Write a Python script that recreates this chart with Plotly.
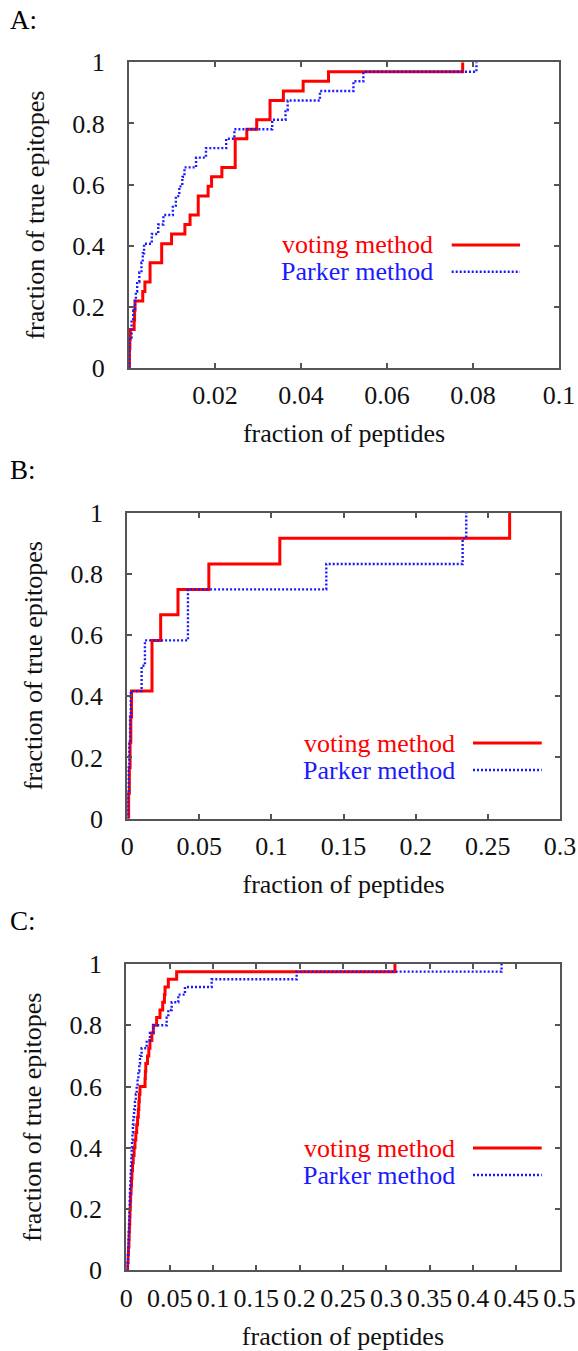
import plotly.graph_objects as go

W, H = 578, 1351

# ---------------- data (fraction of peptides, fraction of true epitopes) -------------
# Panel A
a_vote_x = [0, 0.0001, 0.0002, 0.0003, 0.0012, 0.0013, 0.0014, 0.0032, 0.0037, 0.0049,
            0.0076, 0.0099, 0.0130, 0.0142, 0.0161, 0.0184, 0.0192, 0.0216, 0.0247,
            0.0274, 0.0297, 0.0328, 0.0359, 0.0405, 0.0464, 0.0776]
a_vote_y = [0, 0.062, 0.094, 0.125, 0.156, 0.188, 0.219, 0.250, 0.281, 0.344,
            0.406, 0.438, 0.469, 0.500, 0.562, 0.594, 0.625, 0.656, 0.750,
            0.781, 0.812, 0.875, 0.906, 0.938, 0.969, 1.000]
a_park_x = [0, 0.0001, 0.0006, 0.0010, 0.0014, 0.0016, 0.0019, 0.0024, 0.0029, 0.0032,
            0.0035, 0.0053, 0.0068, 0.0080, 0.0102, 0.0109, 0.0117, 0.0124, 0.0129,
            0.0156, 0.0179, 0.0226, 0.0245, 0.0333, 0.0364, 0.0369, 0.0444, 0.0522,
            0.0545, 0.0808]
a_park_y = [0, 0.094, 0.156, 0.188, 0.219, 0.250, 0.281, 0.312, 0.344, 0.375,
            0.406, 0.438, 0.469, 0.500, 0.531, 0.562, 0.594, 0.625, 0.656,
            0.688, 0.719, 0.750, 0.781, 0.812, 0.844, 0.875, 0.906, 0.938,
            0.969, 1.000]

# Panel B
b_vote_x = [0, 0.0010, 0.0015, 0.0020, 0.0025, 0.0030, 0.0172, 0.0232, 0.0352, 0.0566,
            0.1058, 0.2651]
b_vote_y = [0, 0.083, 0.167, 0.250, 0.333, 0.417, 0.583, 0.667, 0.750, 0.833,
            0.917, 1.000]
b_park_x = [0, 0.0005, 0.0010, 0.0015, 0.0020, 0.0025, 0.0100, 0.0123, 0.0421, 0.1380,
            0.2325, 0.2350]
b_park_y = [0, 0.083, 0.167, 0.250, 0.333, 0.417, 0.500, 0.583, 0.750, 0.833,
            0.917, 1.000]

# Panel C
c_vote_x = [0, 0.0015, 0.0020, 0.0025, 0.0030, 0.0033, 0.0036, 0.0040, 0.0043, 0.0047,
            0.0050, 0.0055, 0.0060, 0.0065, 0.0072, 0.0080, 0.0090, 0.0100, 0.0110,
            0.0120, 0.0130, 0.0139, 0.0145, 0.0150, 0.0158, 0.0216, 0.0220, 0.0225,
            0.0245, 0.0260, 0.0273, 0.0295, 0.0312, 0.0350, 0.0389, 0.0420, 0.0440,
            0.0447, 0.0485, 0.0581, 0.3100]
c_vote_y = [0, 0.025, 0.050, 0.075, 0.100, 0.125, 0.150, 0.175, 0.200, 0.225,
            0.250, 0.275, 0.300, 0.325, 0.350, 0.375, 0.400, 0.425, 0.450,
            0.475, 0.500, 0.525, 0.550, 0.575, 0.600, 0.625, 0.650, 0.675,
            0.700, 0.725, 0.750, 0.775, 0.800, 0.825, 0.850, 0.875, 0.900,
            0.925, 0.950, 0.975, 1.000]
c_park_x = [0, 0.0015, 0.0020, 0.0023, 0.0026, 0.0029, 0.0032, 0.0034, 0.0036, 0.0039,
            0.0041, 0.0043, 0.0047, 0.0050, 0.0054, 0.0058, 0.0062, 0.0066, 0.0071,
            0.0076, 0.0081, 0.0090, 0.0100, 0.0110, 0.0120, 0.0130, 0.0139, 0.0150,
            0.0158, 0.0177, 0.0235, 0.0273, 0.0312, 0.0466, 0.0485, 0.0524, 0.0600,
            0.0677, 0.0985, 0.1966, 0.4330]
c_park_y = [0, 0.025, 0.050, 0.075, 0.100, 0.125, 0.150, 0.175, 0.200, 0.225,
            0.250, 0.275, 0.300, 0.325, 0.350, 0.375, 0.400, 0.425, 0.450,
            0.475, 0.500, 0.525, 0.550, 0.575, 0.600, 0.625, 0.650, 0.675,
            0.700, 0.725, 0.750, 0.775, 0.800, 0.825, 0.850, 0.875, 0.900,
            0.925, 0.950, 0.975, 1.000]

x_ticks_a = [0, 0.02, 0.04, 0.06, 0.08, 0.1]
x_text_a = ["", "0.02", "0.04", "0.06", "0.08", "0.1"]
x_ticks_b = [0, 0.05, 0.1, 0.15, 0.2, 0.25, 0.3]
x_text_b = ["0", "0.05", "0.1", "0.15", "0.2", "0.25", "0.3"]
x_ticks_c = [0, 0.05, 0.1, 0.15, 0.2, 0.25, 0.3, 0.35, 0.4, 0.45, 0.5]
x_text_c = ["0", "0.05", "0.1", "0.15", "0.2", "0.25", "0.3", "0.35", "0.4", "0.45", "0.5"]
y_ticks = [0, 0.2, 0.4, 0.6, 0.8, 1]
y_text = ["0", "0.2", "0.4", "0.6", "0.8", "1"]

panel_labels = ["A:", "B:", "C:"]
series_names = ["voting method", "Parker method"]

# ---------------- layout helpers (pixel -> paper) ----------------
def px(p):
    return p / W

def py(p):
    return 1 - p / H

RED = "#ff0000"
BLUE = "#1a1aff"
FONT = "Liberation Serif"
AXC = "#555555"

panels = [
    dict(vx=a_vote_x, vy=a_vote_y, px_=a_park_x, py_=a_park_y, xr=[0, 0.1],
         xt=x_ticks_a, xtt=x_text_a, box=(129, 559, 62.3, 367.8),
         label_y=20, leg_right=435, leg_y=(245, 271.7), line_x=(451.7, 520)),
    dict(vx=b_vote_x, vy=b_vote_y, px_=b_park_x, py_=b_park_y, xr=[0, 0.3],
         xt=x_ticks_b, xtt=x_text_b, box=(127.2, 560, 513, 818.5),
         label_y=470, leg_right=456.7, leg_y=(743, 770), line_x=(473, 541.7)),
    dict(vx=c_vote_x, vy=c_vote_y, px_=c_park_x, py_=c_park_y, xr=[0, 0.5],
         xt=x_ticks_c, xtt=x_text_c, box=(126.3, 559.6, 964, 1270.3),
         label_y=921, leg_right=456.7, leg_y=(1148, 1175), line_x=(473, 541.7)),
]

fig = go.Figure()
annotations = []
shapes = []
layout = {}

for i, p in enumerate(panels, start=1):
    sfx = "" if i == 1 else str(i)
    xa = "x" + sfx
    ya = "y" + sfx
    fig.add_trace(go.Scatter(x=p["vx"], y=p["vy"], mode="lines", line_shape="hv",
                             line=dict(color=RED, width=3), name=series_names[0],
                             xaxis=xa, yaxis=ya, showlegend=False))
    fig.add_trace(go.Scatter(x=p["px_"], y=p["py_"], mode="lines", line_shape="hv",
                             line=dict(color=BLUE, width=2.4, dash="2px,2px"),
                             name=series_names[1], xaxis=xa, yaxis=ya, showlegend=False))
    x0, x1, y0, y1 = p["box"]
    common = dict(showline=True, linecolor=AXC, linewidth=2, mirror="ticks",
                  ticks="inside", ticklen=5, tickwidth=1.5, tickcolor=AXC,
                  showgrid=False, zeroline=False, automargin=False,
                  tickfont=dict(family=FONT, size=26, color="#111111"))
    layout["xaxis" + sfx] = dict(
        common, domain=[px(x0), px(x1)], range=p["xr"], anchor=ya,
        tickmode="array", tickvals=p["xt"], ticktext=p["xtt"], tickangle=0,
        ticklabelstandoff=3,
        title=dict(text="fraction of peptides", font=dict(family=FONT, size=26, color="#111111"),
                   standoff=15))
    layout["yaxis" + sfx] = dict(
        common, domain=[py(y1), py(y0)], range=[0, 1], anchor=xa,
        tickmode="array", tickvals=y_ticks, ticktext=y_text,
        ticklabelstandoff=17,
        title=dict(text="fraction of true epitopes", font=dict(family=FONT, size=26, color="#111111"),
                   standoff=20))
    annotations.append(dict(text=panel_labels[i - 1], x=px(8), y=py(p["label_y"]),
                            xref="paper", yref="paper", xanchor="left", yanchor="middle",
                            showarrow=False, font=dict(family=FONT, size=27, color="#000000")))
    for name, color, ly in zip(series_names, [RED, BLUE], p["leg_y"]):
        annotations.append(dict(text=name, x=px(p["leg_right"]), y=py(ly),
                                xref="paper", yref="paper", xanchor="right", yanchor="middle",
                                showarrow=False, font=dict(family=FONT, size=26, color=color)))
    shapes.append(dict(type="line", xref="paper", yref="paper",
                       x0=px(p["line_x"][0]), x1=px(p["line_x"][1]),
                       y0=py(p["leg_y"][0]), y1=py(p["leg_y"][0]),
                       line=dict(color=RED, width=3)))
    shapes.append(dict(type="line", xref="paper", yref="paper",
                       x0=px(p["line_x"][0]), x1=px(p["line_x"][1]),
                       y0=py(p["leg_y"][1]), y1=py(p["leg_y"][1]),
                       line=dict(color=BLUE, width=2.4, dash="2px,2px")))

fig.update_layout(width=W, height=H, margin=dict(l=0, r=0, t=0, b=0),
                  paper_bgcolor="white", plot_bgcolor="white",
                  annotations=annotations, shapes=shapes, showlegend=False, **layout)

fig.write_html("out.html", config={"displayModeBar": False},
               post_script="document.body.style.margin='0';document.body.style.overflow='hidden';")
